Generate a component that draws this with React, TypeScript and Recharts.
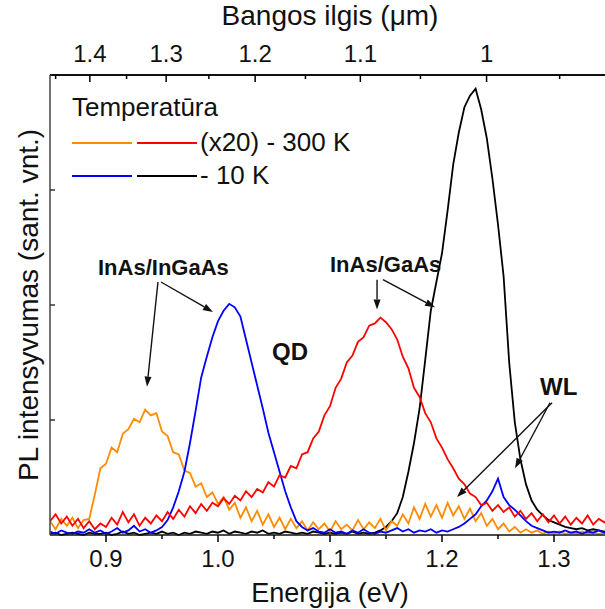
import { LineChart, Line, XAxis, YAxis, ReferenceLine } from 'recharts';

const FONT = '"Liberation Sans", Arial, sans-serif';
const HC = 1.2398; // eV * um

// photon energy grid (eV)
const energies = [
  0.85, 0.855, 0.86, 0.865, 0.87, 0.875, 0.88, 0.885, 0.89, 0.895,
  0.9, 0.905, 0.91, 0.915, 0.92, 0.925, 0.93, 0.935, 0.94, 0.945,
  0.95, 0.955, 0.96, 0.965, 0.97, 0.975, 0.98, 0.985, 0.99, 0.995,
  1.0, 1.005, 1.01, 1.015, 1.02, 1.025, 1.03, 1.035, 1.04, 1.045,
  1.05, 1.055, 1.06, 1.065, 1.07, 1.075, 1.08, 1.085, 1.09, 1.095,
  1.1, 1.105, 1.11, 1.115, 1.12, 1.125, 1.13, 1.135, 1.14, 1.145,
  1.15, 1.155, 1.16, 1.165, 1.17, 1.175, 1.18, 1.185, 1.19, 1.195,
  1.2, 1.205, 1.21, 1.215, 1.22, 1.225, 1.23, 1.235, 1.24, 1.245,
  1.25, 1.255, 1.26, 1.265, 1.27, 1.275, 1.28, 1.285, 1.29, 1.295,
  1.3, 1.305, 1.31, 1.315, 1.32, 1.325, 1.33, 1.335, 1.34, 1.345, 1.35,
];

// InAs/InGaAs, 300 K (x20)
const inGaAs300 = [
  0.12, 0.05, 0.14, 0.08, 0.15, 0.06, 0.13, 0.14, 0.35, 0.58,
  0.62, 0.76, 0.72, 0.88, 0.92, 1.01, 0.98, 1.09, 1.04, 1.06,
  0.9, 0.86, 0.72, 0.7, 0.56, 0.54, 0.42, 0.45, 0.33, 0.37,
  0.27, 0.33, 0.22, 0.28, 0.15, 0.24, 0.12, 0.21, 0.09, 0.18,
  0.07, 0.15, 0.05, 0.14, 0.06, 0.12, 0.04, 0.11, 0.05, 0.1,
  0.03, 0.12, 0.05, 0.09, 0.04, 0.13, 0.05, 0.11, 0.06, 0.14,
  0.04, 0.12, 0.08, 0.18, 0.1, 0.24, 0.14, 0.27, 0.16, 0.26,
  0.15, 0.28, 0.17, 0.25, 0.14, 0.23, 0.12, 0.19, 0.08, 0.14,
  0.05, 0.1, 0.03, 0.07, 0.02, 0.05, 0.02, 0.04, 0.01, 0.03,
  0.01, 0.03, 0.01, 0.02, 0.01, 0.03, 0.01, 0.02, 0.01, 0.02, 0.01,
];

// InAs/InGaAs, 10 K
const inGaAs10 = [
  0.03, 0.01, 0.04, 0.02, 0.01, 0.03, 0.02, 0.05, 0.02, 0.04,
  0.01, 0.03, 0.06, 0.02, 0.04, 0.08, 0.03, 0.05, 0.02, 0.04,
  0.07, 0.13, 0.24, 0.38, 0.55, 0.8, 1.08, 1.37, 1.55, 1.72,
  1.86, 1.95, 2.01, 1.98, 1.9, 1.7, 1.5, 1.3, 1.1, 0.89,
  0.72, 0.55, 0.38, 0.24, 0.12, 0.07, 0.04, 0.06, 0.03, 0.02,
  0.05, 0.02, 0.03, 0.01, 0.04, 0.02, 0.05, 0.02, 0.01, 0.03,
  0.02, 0.04, 0.06, 0.03, 0.05, 0.02, 0.04, 0.03, 0.05, 0.02,
  0.04, 0.03, 0.05, 0.07, 0.1, 0.14, 0.18, 0.25, 0.3, 0.38,
  0.49, 0.33, 0.26, 0.22, 0.17, 0.12, 0.08, 0.06, 0.04, 0.02,
  0.03, 0.02, 0.04, 0.02, 0.03, 0.01, 0.03, 0.02, 0.04, 0.02, 0.03,
];

// InAs/GaAs, 300 K (x20)
const gaAs300 = [
  0.12, 0.18, 0.1, 0.16, 0.08, 0.14, 0.06, 0.12, 0.05, 0.1,
  0.07, 0.15, 0.09, 0.2, 0.11, 0.18, 0.08, 0.15, 0.1, 0.17,
  0.12, 0.2, 0.14, 0.22, 0.16, 0.25, 0.19, 0.27, 0.21, 0.28,
  0.25, 0.32, 0.27, 0.34, 0.3, 0.38, 0.33, 0.4, 0.37, 0.46,
  0.42, 0.52, 0.5, 0.6, 0.58, 0.7, 0.72, 0.84, 0.9, 1.04,
  1.12, 1.28, 1.36, 1.5, 1.56, 1.68, 1.72, 1.82, 1.84, 1.89,
  1.85, 1.79, 1.7, 1.55, 1.45, 1.28, 1.2, 1.06, 0.98, 0.84,
  0.76, 0.66, 0.58, 0.49, 0.44, 0.36, 0.33, 0.26, 0.28, 0.21,
  0.26, 0.2, 0.24, 0.16, 0.21, 0.14, 0.19, 0.12, 0.18, 0.11,
  0.17, 0.1, 0.16, 0.09, 0.15, 0.1, 0.17, 0.09, 0.14, 0.11, 0.16,
];

// InAs/GaAs, 10 K
const gaAs10 = [
  0.01, 0.02, 0.0, 0.01, 0.02, 0.01, 0.0, 0.02, 0.01, 0.01,
  0.02, 0.0, 0.01, 0.03, 0.01, 0.02, 0.0, 0.01, 0.02, 0.01,
  0.03, 0.01, 0.02, 0.0, 0.02, 0.01, 0.03, 0.02, 0.01, 0.03,
  0.02, 0.04, 0.01, 0.03, 0.02, 0.01, 0.03, 0.02, 0.04, 0.01,
  0.02, 0.01, 0.03, 0.02, 0.01, 0.02, 0.01, 0.03, 0.02, 0.01,
  0.02, 0.01, 0.02, 0.01, 0.03, 0.01, 0.02, 0.01, 0.02, 0.04,
  0.07, 0.12, 0.19, 0.33, 0.55, 0.8, 1.1, 1.52, 1.95, 2.2,
  2.45, 2.82, 3.22, 3.5, 3.72, 3.82, 3.88, 3.7, 3.45, 3.1,
  2.7, 2.25, 1.5, 0.98, 0.66, 0.44, 0.3, 0.22, 0.17, 0.13,
  0.11, 0.09, 0.07, 0.06, 0.05, 0.06, 0.04, 0.05, 0.04, 0.03, 0.04,
];

const energyMajor = [0.9, 1.0, 1.1, 1.2, 1.3];
const energyTicks = [0.9, 0.95, 1.0, 1.05, 1.1, 1.15, 1.2, 1.25, 1.3];
const waveMajor = [1.4, 1.3, 1.2, 1.1, 1];
const waveMinor = [1.45, 1.35, 1.25, 1.15, 1.05, 0.95];
const intensityTicks = [1, 2, 3];

// annotation arrows, in (eV, intensity)
const arrows = [
  { x1: 0.9464, y1: 2.2, x2: 0.9366, y2: 1.29 },
  { x1: 0.9491, y1: 2.2, x2: 0.9955, y2: 1.94 },
  { x1: 1.142, y1: 2.22, x2: 1.142, y2: 1.96 },
  { x1: 1.1473, y1: 2.22, x2: 1.1938, y2: 1.98 },
  { x1: 1.2982, y1: 1.15, x2: 1.2134, y2: 0.33 },
  { x1: 1.2964, y1: 1.15, x2: 1.2652, y2: 0.58 },
];

const data = energies.map((e, i) => ({
  e,
  o: inGaAs300[i],
  b: inGaAs10[i],
  r: gaAs300[i],
  k: gaAs10[i],
}));

const topTicks = [...waveMajor, ...waveMinor].map((l) => HC / l).sort((a, b) => a - b);

const BottomTick = (props: any) => {
  const { x, y, payload } = props;
  const major = energyMajor.some((m) => Math.abs(m - payload.value) < 1e-6);
  return (
    <g>
      <line x1={x} y1={y} x2={x} y2={y + (major ? 7 : 4)} stroke="#000" strokeWidth={1.5} />
      {major && (
        <text x={x} y={y + 32} textAnchor="middle" fontSize={24} fill="#111" fontFamily={FONT}>
          {payload.value.toFixed(1)}
        </text>
      )}
    </g>
  );
};

const TopTick = (props: any) => {
  const { x, y, payload } = props;
  const lambda = HC / payload.value;
  const major = waveMajor.find((m) => Math.abs(m - lambda) < 1e-3);
  return (
    <g>
      <line x1={x} y1={y} x2={x} y2={y + (major !== undefined ? 7 : 4)} stroke="#000" strokeWidth={1.5} />
      {major !== undefined && (
        <text x={x} y={y - 13} textAnchor="middle" fontSize={24} fill="#111" fontFamily={FONT}>
          {major === 1 ? '1' : major.toFixed(1)}
        </text>
      )}
    </g>
  );
};

const LeftTick = (props: any) => {
  const { x, y } = props;
  return <line x1={x} y1={y} x2={x + 5} y2={y} stroke="#333" strokeWidth={1.5} />;
};

const Arrow = (props: any) => {
  const { x1, y1, x2, y2 } = props;
  const a = Math.atan2(y2 - y1, x2 - x1);
  const len = 10;
  const w = 3.5;
  const bx = x2 - len * Math.cos(a);
  const by = y2 - len * Math.sin(a);
  const pts = `${x2},${y2} ${bx - w * Math.sin(a)},${by + w * Math.cos(a)} ${bx + w * Math.sin(a)},${by - w * Math.cos(a)}`;
  return (
    <g>
      <line x1={x1} y1={y1} x2={bx} y2={by} stroke="#111" strokeWidth={1.4} />
      <polygon points={pts} fill="#111" />
    </g>
  );
};

export default function App() {
  return (
    <div style={{ position: 'absolute', left: 0, top: 0, width: 605, height: 609, overflow: 'hidden', background: '#fff' }}>
      <LineChart width={615} height={609} data={data} margin={{ top: 0, right: 5, bottom: 0, left: 0 }}>
        <XAxis
          xAxisId="bottom"
          dataKey="e"
          type="number"
          domain={[0.85, 1.35]}
          allowDataOverflow
          ticks={energyTicks}
          interval={0}
          height={74}
          tickSize={0}
          tickMargin={0}
          tick={BottomTick}
          axisLine={{ stroke: '#111', strokeWidth: 1.5 }}
          label={{ value: 'Energija (eV)', position: 'insideBottom', offset: 7, fontSize: 27, fill: '#111', fontFamily: FONT }}
        />
        <XAxis
          xAxisId="top"
          orientation="top"
          dataKey="e"
          type="number"
          domain={[0.85, 1.35]}
          allowDataOverflow
          ticks={topTicks}
          interval={0}
          height={75}
          tickSize={0}
          tickMargin={0}
          tick={TopTick}
          axisLine={{ stroke: '#111', strokeWidth: 2 }}
          label={{ value: 'Bangos ilgis (μm)', position: 'insideTop', offset: 5, fontSize: 28, fill: '#111', fontFamily: FONT }}
        />
        <YAxis
          yAxisId="left"
          type="number"
          domain={[0, 4]}
          ticks={intensityTicks}
          interval={0}
          width={50}
          tickSize={0}
          tickMargin={0}
          tick={LeftTick}
          axisLine={{ stroke: '#444', strokeWidth: 1.5 }}
          label={{ value: 'PL intensyvumas (sant. vnt.)', angle: -90, position: 'center', dx: 3, fontSize: 28, fill: '#111', fontFamily: FONT }}
        />
        <Line xAxisId="bottom" yAxisId="left" dataKey="k" stroke="#000000" strokeWidth={1.8} dot={false} type="linear" isAnimationActive={false} />
        <Line xAxisId="bottom" yAxisId="left" dataKey="o" stroke="#ff8c00" strokeWidth={1.8} dot={false} type="linear" isAnimationActive={false} />
        <Line xAxisId="bottom" yAxisId="left" dataKey="b" stroke="#0000ff" strokeWidth={1.8} dot={false} type="linear" isAnimationActive={false} />
        <Line xAxisId="bottom" yAxisId="left" dataKey="r" stroke="#ff0000" strokeWidth={1.8} dot={false} type="linear" isAnimationActive={false} />
        {arrows.map((a, i) => (
          <ReferenceLine
            key={i}
            xAxisId="bottom"
            yAxisId="left"
            segment={[{ x: a.x1, y: a.y1 }, { x: a.x2, y: a.y2 }]}
            ifOverflow="visible"
            shape={Arrow}
          />
        ))}
      </LineChart>
      <svg width={605} height={609} style={{ position: 'absolute', left: 0, top: 0, pointerEvents: 'none' }} fontFamily={FONT}>
        <text x={72} y={116} fontSize={26} fill="#111">Temperatūra</text>
        <line x1={72} y1={143} x2={132} y2={143} stroke="#ff8c00" strokeWidth={2} />
        <line x1={137} y1={143} x2={197} y2={143} stroke="#ff0000" strokeWidth={2} />
        <text x={200} y={151} fontSize={26} fill="#111">(x20) - 300 K</text>
        <line x1={72} y1={176} x2={132} y2={176} stroke="#0000ff" strokeWidth={2} />
        <line x1={137} y1={176} x2={197} y2={176} stroke="#000000" strokeWidth={2} />
        <text x={200} y={184} fontSize={26} fill="#111">- 10 K</text>
        <text x={98} y={275} fontSize={22} fontWeight="bold" fill="#111">InAs/InGaAs</text>
        <text x={272} y={360} fontSize={24} fontWeight="bold" fill="#111">QD</text>
        <text x={330} y={272} fontSize={22} fontWeight="bold" fill="#111">InAs/GaAs</text>
        <text x={540} y={395} fontSize={24} fontWeight="bold" fill="#111">WL</text>
      </svg>
    </div>
  );
}
